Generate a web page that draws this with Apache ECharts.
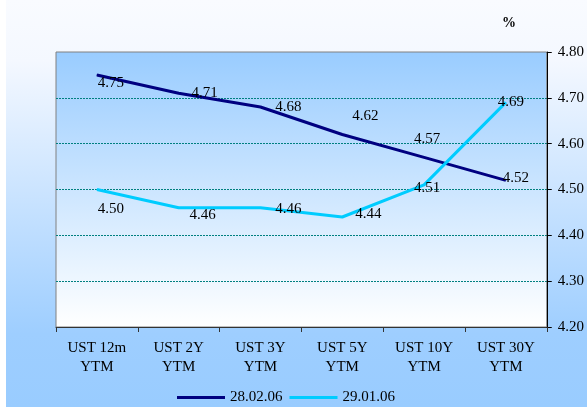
<!DOCTYPE html>
<html>
<head>
<meta charset="utf-8">
<script src="https://cdn.jsdelivr.net/npm/echarts@6/dist/echarts.min.js"></script>
<style>
  html, body { margin: 0; padding: 0; background: #fff; }
  #chart { width: 587px; height: 407px; }
</style>
</head>
<body>
<div id="chart"></div>
<script>
// Treasury yields by maturity, two dates
const categories = ['UST 12m\nYTM', 'UST 2Y\nYTM', 'UST 3Y\nYTM', 'UST 5Y\nYTM', 'UST 10Y\nYTM', 'UST 30Y\nYTM'];
const seriesNames = ['28.02.06', '29.01.06'];
const yieldsFeb = [4.75, 4.71, 4.68, 4.62, 4.57, 4.52];
const yieldsJan = [4.50, 4.46, 4.46, 4.44, 4.51, 4.69];
const yMin = 4.2, yMax = 4.8, yStep = 0.1;

const FONT = "'Liberation Serif', 'Times New Roman', serif";

// label placement around each point (pixels from the point)
const febLabelShift = [[14, 8], [26, 0], [28, 0], [23, -18], [3, -18], [10, -2]];
const janLabelShift = [[14, 20], [24, 7], [28, 1], [26, -3], [3, 3], [5, 0]];

function withLabels(values, shifts) {
  return values.map((v, i) => ({ value: v, label: { offset: shifts[i] } }));
}

function lineSeries(name, values, color, shifts) {
  return {
    name: name,
    type: 'line',
    data: withLabels(values, shifts),
    symbol: 'circle',
    symbolSize: 1,
    showSymbol: true,
    lineStyle: { color: color, width: 3 },
    itemStyle: { color: color },
    label: {
      show: true,
      position: 'inside',
      formatter: p => p.value.toFixed(2),
      fontFamily: FONT,
      fontSize: 15,
      color: '#000'
    },
    emphasis: { disabled: true },
    animation: false
  };
}

const chart = echarts.init(document.getElementById('chart'), null, { renderer: 'canvas' });

chart.setOption({
  backgroundColor: {
    type: 'linear', x: 0, y: 0, x2: 0, y2: 1,
    colorStops: [
      { offset: 0, color: '#F9FBFF' },
      { offset: 0.15, color: '#F4F8FF' },
      { offset: 0.82, color: '#9ECEFF' },
      { offset: 1, color: '#99CCFF' }
    ]
  },
  animation: false,
  graphic: [
    { type: 'rect', left: 0, top: 0, shape: { width: 6, height: 407 }, style: { fill: '#ffffff' }, z: 1 },
    {
      type: 'text', left: 502, top: 16,
      style: { text: '%', font: "bold 14px 'Liberation Serif', serif", fill: '#000' }
    }
  ],
  grid: {
    left: 56, top: 52, right: 40, bottom: 80,
    show: true,
    borderColor: '#808080',
    borderWidth: 1,
    backgroundColor: {
      type: 'linear', x: 0, y: 0, x2: 0, y2: 1,
      colorStops: [
        { offset: 0, color: '#99CCFF' },
        { offset: 1, color: '#FFFFFF' }
      ]
    }
  },
  legend: {
    left: 172,
    top: 385,
    icon: 'rect',
    itemWidth: 48,
    itemHeight: 3,
    itemGap: 7,
    data: seriesNames,
    textStyle: { fontFamily: FONT, fontSize: 15, color: '#000' }
  },
  xAxis: {
    type: 'category',
    data: categories,
    boundaryGap: true,
    axisLine: { show: true, lineStyle: { color: '#333', width: 1 } },
    axisTick: { show: true, inside: false, length: 5, alignWithLabel: false, lineStyle: { color: '#333' } },
    axisLabel: {
      interval: 0,
      margin: 12,
      fontFamily: FONT,
      fontSize: 15,
      lineHeight: 19,
      color: '#000'
    },
    splitLine: { show: false }
  },
  yAxis: {
    type: 'value',
    position: 'right',
    min: yMin,
    max: yMax,
    interval: yStep,
    axisLine: { show: true, lineStyle: { color: '#000', width: 1 } },
    axisTick: { show: true, inside: false, length: 5, lineStyle: { color: '#000' } },
    axisLabel: {
      margin: 11,
      formatter: v => v.toFixed(2),
      fontFamily: FONT,
      fontSize: 15,
      color: '#000'
    },
    splitLine: {
      show: true,
      lineStyle: {
        color: ['rgba(0,0,0,0)', '#008080', '#008080', '#008080', '#008080', '#008080', 'rgba(0,0,0,0)'],
        type: [2, 1],
        width: 1
      }
    }
  },
  series: [
    lineSeries(seriesNames[0], yieldsFeb, '#000080', febLabelShift),
    lineSeries(seriesNames[1], yieldsJan, '#00CCFF', janLabelShift)
  ]
});
</script>
</body>
</html>
